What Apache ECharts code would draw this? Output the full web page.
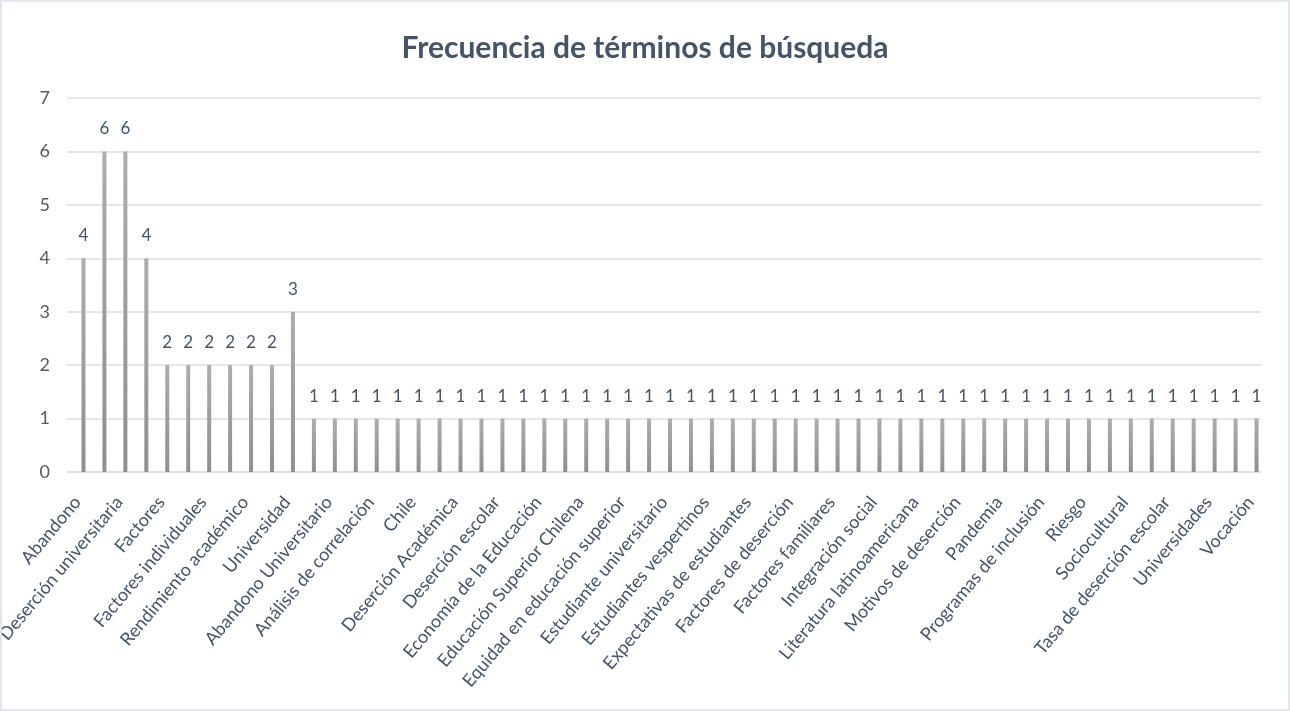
<!DOCTYPE html>
<html>
<head>
<meta charset="utf-8">
<title>Frecuencia de términos de búsqueda</title>
<script src="https://cdn.jsdelivr.net/npm/echarts@6/dist/echarts.min.js"></script>
<style>
  html, body { margin: 0; padding: 0; background: #fff; }
  #chart { width: 1290px; height: 711px; box-sizing: border-box; border: 2px solid #e1e6ec; }
</style>
</head>
<body>
<div id="chart"></div>
<script>
// términos de búsqueda (sólo se ven los de índice par en el eje)
const terms = [
  'Abandono', 'Deserción', 'Deserción universitaria', 'Estudiantes', 'Factores',
  'Factores de riesgo', 'Factores individuales', 'Permanencia', 'Rendimiento académico', 'Retención estudiantil',
  'Universidad', 'Abandono escolar', 'Abandono Universitario', 'Acceso a la educación superior', 'Análisis de correlación',
  'Apoyo académico', 'Chile', 'Covid-19', 'Deserción Académica', 'Deserción en primer año',
  'Deserción escolar', 'Deserción temprana', 'Economía de la Educación', 'Educación superior', 'Educación Superior Chilena',
  'Eficiencia terminal', 'Equidad en educación superior', 'Estudiante de primer año', 'Estudiante universitario', 'Estudiantes de primera generación',
  'Estudiantes vespertinos', 'Evaluación docente', 'Expectativas de estudiantes', 'Factores académicos', 'Factores de deserción',
  'Factores económicos', 'Factores familiares', 'Financiamiento', 'Integración social', 'Interculturalidad',
  'Literatura latinoamericana', 'Modelo de Tinto', 'Motivos de deserción', 'Orientación vocacional', 'Pandemia',
  'Permanencia estudiantil', 'Programas de inclusión', 'Retención', 'Riesgo', 'Salud mental',
  'Sociocultural', 'Socioeconómico', 'Tasa de deserción escolar', 'Trayectoria académica', 'Universidades',
  'Variables predictivas', 'Vocación'
];

// frecuencia de cada término
const frecuencia = [
  4, 6, 6, 4, 2, 2, 2, 2, 2, 2,
  3, 1, 1, 1, 1, 1, 1, 1, 1, 1,
  1, 1, 1, 1, 1, 1, 1, 1, 1, 1,
  1, 1, 1, 1, 1, 1, 1, 1, 1, 1,
  1, 1, 1, 1, 1, 1, 1, 1, 1, 1,
  1, 1, 1, 1, 1, 1, 1
];

const yTicks = [0, 1, 2, 3, 4, 5, 6, 7];

const chart = echarts.init(document.getElementById('chart'));
const font = 'Lato, "Open Sans", sans-serif';

const option = {
  animation: false,
  title: {
    text: 'Frecuencia de términos de búsqueda',
    left: 'center',
    top: 26,
    textStyle: {
      fontFamily: font,
      fontSize: 30,
      fontWeight: 'bold',
      color: '#44546a'
    }
  },
  grid: {
    left: 65,
    right: 27,
    top: 96,
    bottom: 237,
    outerBoundsMode: 'none'
  },
  xAxis: {
    type: 'category',
    data: terms,
    axisLine: {
      lineStyle: { color: '#d9dfe6', width: 1.5 }
    },
    axisTick: { show: false },
    axisLabel: {
      interval: 1,
      rotate: 50,
      margin: 27,
      fontFamily: font,
      fontSize: 18,
      color: '#44546a'
    }
  },
  yAxis: {
    type: 'value',
    min: yTicks[0],
    max: yTicks[yTicks.length - 1],
    interval: 1,
    axisLine: { show: false },
    axisTick: { show: false },
    splitLine: {
      lineStyle: { color: '#d9dfe6', width: 1.5 }
    },
    axisLabel: {
      margin: 17,
      fontFamily: font,
      fontSize: 18,
      color: '#595959'
    }
  },
  series: [
    {
      // serie vacía: desplaza las barras dentro de cada categoría como en el original
      type: 'bar',
      data: [],
      barWidth: 4,
      barGap: '200%',
      silent: true
    },
    {
      name: 'Frecuencia',
      type: 'bar',
      data: frecuencia,
      barWidth: 4,
      barGap: '200%',
      itemStyle: {
        color: new echarts.graphic.LinearGradient(0, 0, 0, 1, [
          { offset: 0, color: '#adadad' },
          { offset: 1, color: '#8f8f8f' }
        ])
      },
      label: {
        show: true,
        position: 'top',
        distance: 14,
        fontFamily: font,
        fontSize: 17,
        color: '#44546a'
      }
    }
  ]
};

chart.setOption(option);
</script>
</body>
</html>
